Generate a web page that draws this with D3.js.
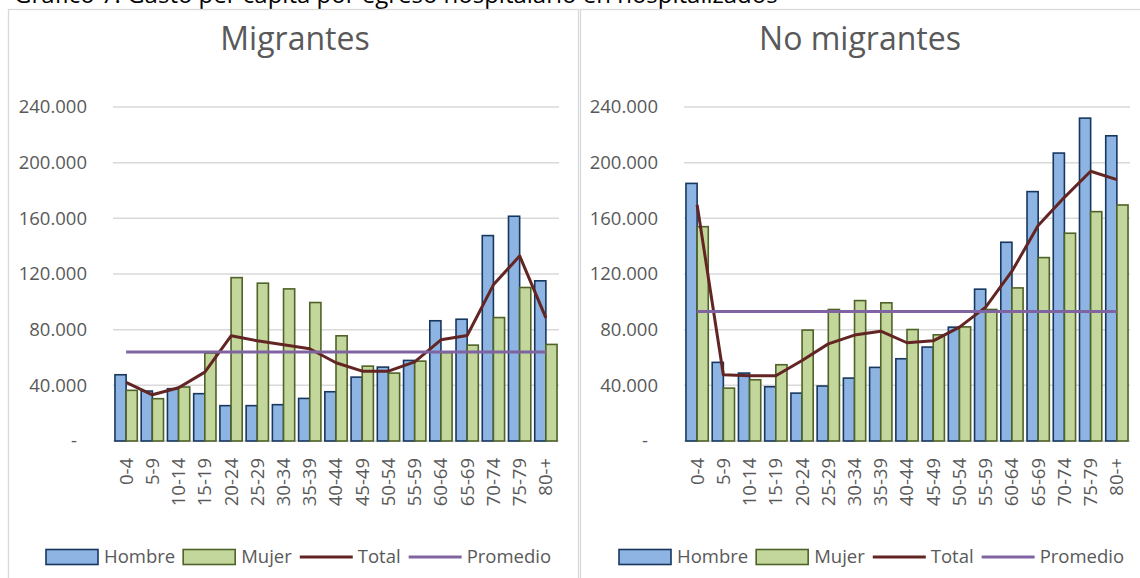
<!DOCTYPE html>
<html>
<head>
<meta charset="utf-8">
<script src="https://cdn.jsdelivr.net/npm/d3@7"></script>
<style>
  body { margin: 0; background: #fff; }
  svg { display: block; font-family: "Open Sans", sans-serif; }
</style>
</head>
<body>
<div class="chart"></div>
<script>
// chart data
var ageGroups = ["0-4", "5-9", "10-14", "15-19", "20-24", "25-29", "30-34", "35-39",
  "40-44", "45-49", "50-54", "55-59", "60-64", "65-69", "70-74", "75-79", "80-+"];

var migHombre = [47600, 35900, 37600, 34000, 25400, 25400, 26100, 30600, 35400,
  45900, 53100, 57900, 86400, 87500, 147600, 161500, 115100];
var migMujer = [36400, 30400, 38800, 63200, 117400, 113400, 109300, 99500, 75600,
  53800, 48800, 57400, 63600, 68900, 88700, 110300, 69400];
var migTotal = [42100, 33200, 38300, 49500, 75600, 72000, 69100, 66300, 56200,
  50200, 50200, 56900, 72700, 75800, 112200, 133000, 88500];
var migPromedio = 63900;

var noMigHombre = [185100, 56500, 48800, 39000, 34400, 39500, 45200, 52900, 59100,
  67500, 81800, 109100, 142800, 179200, 206900, 232000, 219300];
var noMigMujer = [154000, 38000, 44000, 54800, 79700, 94500, 100900, 99300, 80100,
  76300, 82000, 94500, 110000, 131800, 149300, 164800, 169600];
var noMigTotal = [169800, 47600, 46900, 46900, 57900, 69800, 76100, 78900, 70600,
  72000, 81800, 96200, 122000, 154800, 175100, 193800, 187800];
var noMigPromedio = 93000;

var yTicks = [0, 40000, 80000, 120000, 160000, 200000, 240000];
var legendNames = ["Hombre", "Mujer", "Total", "Promedio"];

// svg size
var svgWidth = 1140;
var svgHeight = 578;

var colors = {
  hombreFill: "#8db4e2", hombreStroke: "#17375e",
  mujerFill: "#c3d69b", mujerStroke: "#4f6228",
  total: "#632523", promedio: "#8064a2",
  grid: "#d9d9d9", text: "#595959"
};

var esLocale = d3.formatLocale({ decimal: ",", thousands: ".", grouping: [3], currency: ["$", ""] });
var fmt = esLocale.format(",");

var svg = d3.select(".chart")
  .append("svg")
  .attr("width", svgWidth)
  .attr("height", svgHeight);

// caption at the very top, cut off like in the source
svg.append("text")
  .attr("x", 14)
  .attr("y", 3)
  .attr("font-size", "24px")
  .attr("fill", "#000")
  .text("Gráfico 7. Gasto per cápita por egreso hospitalario en hospitalizados");

// y scale is shared by both panels
var y = d3.scaleLinear()
  .domain([0, 240000])
  .range([441, 107]);

function drawPanel(p) {
  var g = svg.append("g");

  // panel frame
  g.append("rect")
    .attr("x", p.frameX + 0.5)
    .attr("y", 9.5)
    .attr("width", p.frameW)
    .attr("height", 620)
    .attr("fill", "#fff")
    .attr("stroke", colors.grid)
    .attr("stroke-width", 1.3);

  // title
  g.append("text")
    .attr("x", p.titleX)
    .attr("y", 50)
    .attr("text-anchor", "middle")
    .attr("font-size", "32px")
    .attr("fill", colors.text)
    .text(p.title);

  var x = d3.scaleBand()
    .domain(ageGroups)
    .range([p.left, p.right])
    .padding(0);

  var barW = x.bandwidth() * 0.425;
  var cx = function(a) { return x(a) + x.bandwidth() / 2; };

  // gridlines
  g.append("g")
    .selectAll("line")
    .data(yTicks)
    .enter()
    .append("line")
    .attr("x1", p.left)
    .attr("x2", p.right)
    .attr("y1", d => y(d))
    .attr("y2", d => y(d))
    .attr("stroke", colors.grid)
    .attr("stroke-width", 1.5);

  // y labels
  g.append("g")
    .selectAll("text")
    .data(yTicks)
    .enter()
    .append("text")
    .attr("x", d => d === 0 ? p.left - 36 : p.left - 26)
    .attr("y", d => y(d))
    .attr("dy", "0.35em")
    .attr("text-anchor", "end")
    .attr("font-size", "18.5px")
    .attr("fill", colors.text)
    .text(d => d === 0 ? "-" : fmt(d));

  // x labels (rotated)
  g.append("g")
    .selectAll("text")
    .data(ageGroups)
    .enter()
    .append("text")
    .attr("transform", d => `translate(${cx(d)}, 458) rotate(-90)`)
    .attr("dy", "0.35em")
    .attr("text-anchor", "end")
    .attr("font-size", "18.5px")
    .attr("fill", colors.text)
    .text(d => d);

  // bars
  g.append("g")
    .selectAll("rect")
    .data(ageGroups)
    .enter()
    .append("rect")
    .attr("x", d => cx(d) - barW)
    .attr("y", (d, i) => y(p.hombre[i]))
    .attr("width", barW)
    .attr("height", (d, i) => y(0) - y(p.hombre[i]))
    .attr("fill", colors.hombreFill)
    .attr("stroke", colors.hombreStroke)
    .attr("stroke-width", 1.6);

  g.append("g")
    .selectAll("rect")
    .data(ageGroups)
    .enter()
    .append("rect")
    .attr("x", d => cx(d))
    .attr("y", (d, i) => y(p.mujer[i]))
    .attr("width", barW)
    .attr("height", (d, i) => y(0) - y(p.mujer[i]))
    .attr("fill", colors.mujerFill)
    .attr("stroke", colors.mujerStroke)
    .attr("stroke-width", 1.6);

  var line = d3.line()
    .x(d => cx(d[0]))
    .y(d => y(d[1]));

  g.append("path")
    .datum(ageGroups.map((a, i) => [a, p.total[i]]))
    .attr("d", line)
    .attr("fill", "none")
    .attr("stroke", colors.total)
    .attr("stroke-width", 3)
    .attr("stroke-linejoin", "round");

  g.append("path")
    .datum(ageGroups.map(a => [a, p.promedio]))
    .attr("d", line)
    .attr("fill", "none")
    .attr("stroke", colors.promedio)
    .attr("stroke-width", 3);

  // legend
  var lg = g.append("g").attr("transform", `translate(${p.legendX}, 557)`);
  var pos = 0;
  legendNames.forEach(function(name, i) {
    if (i < 2) {
      lg.append("rect")
        .attr("x", pos)
        .attr("y", -7.5)
        .attr("width", 52)
        .attr("height", 15)
        .attr("fill", i === 0 ? colors.hombreFill : colors.mujerFill)
        .attr("stroke", i === 0 ? colors.hombreStroke : colors.mujerStroke)
        .attr("stroke-width", 1.6);
    } else {
      lg.append("line")
        .attr("x1", pos)
        .attr("x2", pos + 53)
        .attr("y1", 0)
        .attr("y2", 0)
        .attr("stroke", i === 2 ? colors.total : colors.promedio)
        .attr("stroke-width", 3);
    }
    var t = lg.append("text")
      .attr("x", pos + 58)
      .attr("y", 0)
      .attr("dy", "0.35em")
      .attr("font-size", "18.5px")
      .attr("fill", colors.text)
      .text(name);
    pos = pos + 58 + t.node().getComputedTextLength() + 8;
  });
}

drawPanel({
  title: "Migrantes", frameX: 8, frameW: 570, titleX: 295,
  left: 113, right: 559, legendX: 46,
  hombre: migHombre, mujer: migMujer, total: migTotal, promedio: migPromedio
});

drawPanel({
  title: "No migrantes", frameX: 580, frameW: 600, titleX: 860,
  left: 684, right: 1130, legendX: 619,
  hombre: noMigHombre, mujer: noMigMujer, total: noMigTotal, promedio: noMigPromedio
});
</script>
</body>
</html>
